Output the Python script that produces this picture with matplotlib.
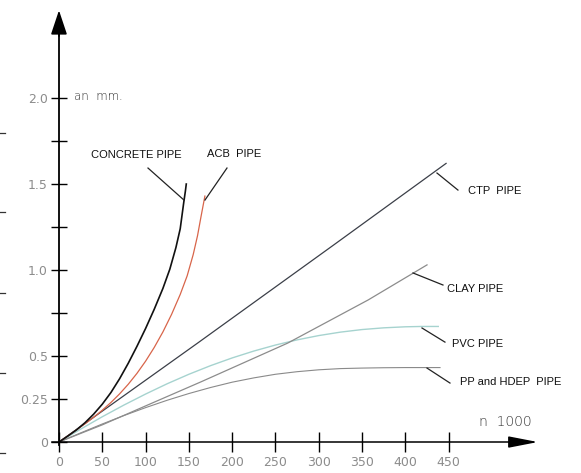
import numpy as np
import matplotlib
matplotlib.use('Agg')
import matplotlib.pyplot as plt
from matplotlib.lines import Line2D

# escala de los ejes
x_ticks = [0, 50, 100, 150, 200, 250, 300, 350, 400, 450]
x_labels = ['0', '50', '100', '150', '200', '250', '300', '350', '400', '450']
y_ticks = [0, 0.25, 0.5, 1.0, 1.5, 2.0]
y_labels = ['0', '0.25', '0.5', '1.0', '1.5', '2.0']
y_minor = [0.75, 1.25, 1.75]

# curvas (n en miles, a en mm)
concrete_x = [0, 10, 20, 30, 40, 50, 60, 70, 80, 90, 100, 110, 120, 128, 135, 140, 144, 146, 147]
concrete_y = [0, 0.034, 0.070, 0.112, 0.162, 0.220, 0.288, 0.368, 0.458, 0.556, 0.660,
              0.772, 0.893, 1.005, 1.13, 1.24, 1.39, 1.46, 1.50]

acb_x = [0, 10, 20, 30, 40, 50, 60, 70, 80, 90, 100, 110, 120, 130, 140, 148, 155, 160, 164, 167, 168.5]
acb_y = [0, 0.035, 0.070, 0.106, 0.144, 0.185, 0.230, 0.280, 0.336, 0.399, 0.470, 0.550,
         0.640, 0.742, 0.858, 0.966, 1.09, 1.20, 1.31, 1.39, 1.43]

ctp_x = [0, 160, 317, 447]
ctp_y = [0, 0.575, 1.145, 1.62]

clay_x = [0, 50, 100, 164, 264, 357, 425]
clay_y = [0, 0.10, 0.21, 0.35, 0.575, 0.826, 1.03]

pvc_x = [0, 25, 50, 75, 100, 125, 150, 175, 200, 225, 250, 275, 300, 325, 350, 375, 400, 419, 438]
pvc_y = [0, 0.075, 0.147, 0.215, 0.279, 0.339, 0.394, 0.444, 0.489, 0.529, 0.564, 0.594,
         0.619, 0.639, 0.654, 0.664, 0.670, 0.672, 0.672]

pp_x = [0, 25, 50, 75, 100, 125, 150, 175, 200, 225, 250, 275, 300, 325, 350, 375, 400, 419, 440]
pp_y = [0, 0.053, 0.105, 0.154, 0.200, 0.243, 0.282, 0.317, 0.348, 0.373, 0.394, 0.409,
        0.420, 0.427, 0.430, 0.432, 0.433, 0.433, 0.433]

fig = plt.figure(figsize=(5.81, 4.73), dpi=100)
ax = fig.add_axes([0, 0, 1, 1])
ax.set_xlim(-68.1, 602.8)
ax.set_ylim(-0.180, 2.570)

# ejes en cruz
ax.spines['top'].set_visible(False)
ax.spines['right'].set_visible(False)
ax.spines['left'].set_position(('data', 0))
ax.spines['bottom'].set_position(('data', 0))
ax.spines['left'].set_bounds(-0.02, 2.40)
ax.spines['bottom'].set_bounds(-8, 540)
ax.spines['left'].set_linewidth(1.3)
ax.spines['bottom'].set_linewidth(1.1)

ax.set_xticks(x_ticks, x_labels)
ax.set_yticks(y_ticks, y_labels)
ax.set_yticks(y_minor, minor=True)
ax.tick_params(axis='x', direction='inout', length=14.4, width=1.0, pad=3,
               labelsize=9, labelcolor='#8c8c8c')
ax.tick_params(axis='y', which='both', direction='inout', length=12.2, width=1.0, pad=2,
               labelsize=9, labelcolor='#8c8c8c')

# flechas
ax.annotate('', xy=(0, 2.51), xytext=(0, 2.36),
            arrowprops=dict(arrowstyle='-|>,head_length=1.5,head_width=0.5',
                            color='k', lw=1.2, mutation_scale=10, shrinkA=0, shrinkB=0))
ax.annotate('', xy=(553, 0), xytext=(520, 0),
            arrowprops=dict(arrowstyle='-|>,head_length=1.8,head_width=0.35',
                            color='k', lw=1.1, mutation_scale=10, shrinkA=0, shrinkB=0))

# curvas
ax.plot(pp_x, pp_y, color='#8a8a8a', lw=0.8)
ax.plot(pvc_x, pvc_y, color='#a6d3cf', lw=1.0)
ax.plot(clay_x, clay_y, color='#8c8c8c', lw=0.9)
ax.plot(ctp_x, ctp_y, color='#3b3f48', lw=0.9)
ax.plot(acb_x, acb_y, color='#d8654a', lw=0.9)
ax.plot(concrete_x, concrete_y, color='#111111', lw=1.2)

# etiquetas con lineas guia
labels = [
    ('CONCRETE PIPE', (88.9, 1.669), (102.8, 1.593), (144.3, 1.407)),
    ('ACB  PIPE', (202.1, 1.674), (194.0, 1.593), (168.6, 1.407)),
    ('CTP  PIPE', (503.5, 1.459), (436.5, 1.564), (460.7, 1.465)),
    ('CLAY PIPE', (480.4, 0.890), (408.8, 0.983), (443.4, 0.913)),
    ('PVC PIPE', (483.8, 0.570), (419.2, 0.663), (445.7, 0.581)),
    ('PP and HDEP  PIPE', (521.9, 0.349), (425.0, 0.430), (451.5, 0.343)),
]
for txt, pos, a, b in labels:
    ax.text(pos[0], pos[1], txt, ha='center', va='center', fontsize=8,
            family='Liberation Sans', color='#111111')
    ax.plot([a[0], b[0]], [a[1], b[1]], color='#222222', lw=0.9)

ax.text(17.3, 2.012, 'an  mm.', ha='left', va='center', fontsize=8.5,
        color='#333333', fontweight='light')
ax.text(485, 0.116, 'n  1000', ha='left', va='center', fontsize=10,
        color='#333333', fontweight='light')

# marcas del escaneo en el borde izquierdo
for yp in [133, 212, 293, 373, 453]:
    fig.add_artist(Line2D([0, 5 / 581], [1 - yp / 473, 1 - yp / 473], color='#333333', lw=0.9))

fig.savefig('out.png', dpi=100)
